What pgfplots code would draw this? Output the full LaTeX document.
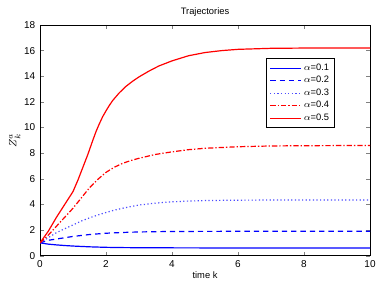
\documentclass[border=0pt]{standalone}
\usepackage{pgfplots}
\pgfplotsset{compat=1.18}
\usepackage{fontspec}
\setmainfont{Liberation Sans}
\begin{document}
\begin{tikzpicture}
\begin{axis}[
  scale only axis,
  width=247.5pt, height=173pt,
  xmin=0, xmax=10, ymin=0, ymax=18,
  xtick={0,2,...,10}, ytick={0,2,...,18},
  tick align=inside,
  tick pos=both,
  major tick length=3pt,
  axis line style={line width=0.6pt},
  /pgf/number format/assume math mode=true,
  tick label style={font=\fontsize{7.5}{8}\selectfont},
  title={Trajectories},
  title style={font=\fontsize{7}{8}\selectfont, yshift=-3pt},
  xlabel={time k},
  xlabel style={font=\fontsize{7}{8}\selectfont, yshift=4pt},
  ylabel={$Z^{a}_{k}$},
  ylabel style={font=\fontsize{8}{9}\selectfont, yshift=-4pt},
  legend style={at={(0.894,0.857)}, anchor=north east, font=\fontsize{7}{8}\selectfont, row sep=-1pt, inner sep=2pt, line width=0.8pt},
  legend image code/.code={\draw[mark repeat=2,mark phase=2,#1] plot coordinates {(0cm,0cm) (0.4cm,0cm) (0.8cm,0cm)};},
  legend cell align=left,
  every axis plot/.append style={line width=0.9pt},
]
\addplot[color=blue] coordinates {(0,1) (0.25,0.9) (0.5,0.84) (0.75,0.79) (1,0.75) (1.5,0.69) (2,0.65) (2.5,0.63) (3,0.62) (4,0.61) (6,0.6) (10,0.6)};
\addlegendentry{$\alpha$=0.1}
\addplot[color=blue, dash pattern=on 4pt off 3pt] coordinates {(0,1) (0.25,1.2) (0.5,1.3) (1,1.5) (1.5,1.65) (2,1.75) (2.5,1.81) (3,1.85) (4,1.89) (6,1.9) (10,1.9)};
\addlegendentry{$\alpha$=0.2}
\addplot[color=blue!70, dash pattern=on 0.9pt off 1.8pt] coordinates {(0,1) (0.25,1.4) (0.5,1.8) (0.75,2.1) (1,2.4) (1.25,2.7) (1.5,2.95) (1.75,3.17) (2,3.37) (2.25,3.55) (2.5,3.7) (2.75,3.83) (3,3.95) (3.5,4.1) (4,4.2) (4.5,4.26) (5,4.3) (6,4.33) (8,4.35) (10,4.35)};
\addlegendentry{$\alpha$=0.3}
\addplot[color=red, dash pattern=on 4pt off 1.5pt on 1pt off 1.5pt] coordinates {(0,1) (0.25,1.6) (0.5,2.3) (0.75,3.0) (1,3.7) (1.25,4.5) (1.5,5.3) (1.75,5.95) (2,6.5) (2.25,6.9) (2.5,7.2) (2.75,7.42) (3,7.6) (3.5,7.9) (4,8.1) (4.5,8.27) (5,8.38) (6,8.5) (7,8.56) (8,8.58) (10,8.6)};
\addlegendentry{$\alpha$=0.4}
\addplot[color=red] coordinates {(0,1) (0.25,1.9) (0.5,3.0) (0.75,4.0) (1,5.0) (1.15,5.9) (1.3,6.9) (1.45,7.9) (1.6,9.0) (1.7,9.7) (1.8,10.3) (1.9,10.85) (2,11.3) (2.1,11.72) (2.2,12.1) (2.4,12.7) (2.6,13.2) (2.8,13.6) (3,13.95) (3.3,14.4) (3.6,14.8) (4,15.2) (4.5,15.6) (5,15.85) (5.5,16.0) (6,16.1) (7,16.18) (8,16.2) (10,16.2)};
\addlegendentry{$\alpha$=0.5}
\end{axis}
\path (current axis.south west) ++(-30pt,-21pt) coordinate (bbA);
\path (current axis.north east) ++(12.75pt,18.75pt) coordinate (bbB);
\path (bbA) rectangle (bbB);
\end{tikzpicture}
\end{document}
